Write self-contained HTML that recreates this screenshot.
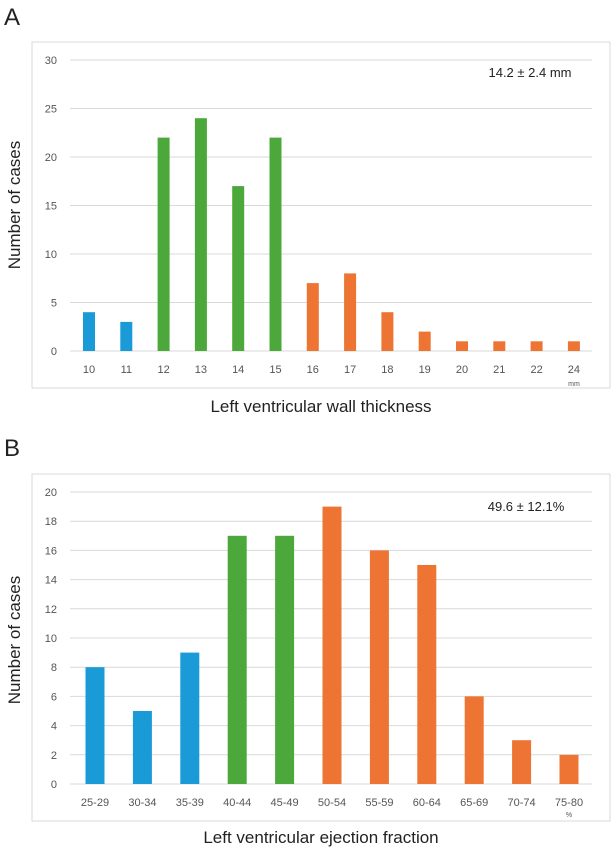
<!DOCTYPE html>
<html><head><meta charset="utf-8">
<style>
html,body{margin:0;padding:0;background:#fff;}
body{width:614px;height:852px;overflow:hidden;font-family:"Liberation Sans","Noto Sans CJK JP",sans-serif;}
</style></head>
<body>
<svg id="chart" width="614" height="852" xmlns="http://www.w3.org/2000/svg" font-family="Liberation Sans, Noto Sans CJK JP, sans-serif">
<text x="4" y="25" font-size="24" fill="#222">A</text>
<rect x="32" y="42" width="578" height="346" fill="none" stroke="#d9d9d9"/>
<g id="gA"></g>
<text x="530" y="77" font-size="13" text-anchor="middle" fill="#222">14.2 ± 2.4 mm</text>
<text x="574" y="386" font-size="7" text-anchor="middle" fill="#555">mm</text>
<text x="321" y="412" font-size="17" text-anchor="middle" fill="#222">Left ventricular wall thickness</text>
<text transform="translate(20,205) rotate(-90)" font-size="17" text-anchor="middle" fill="#222">Number of cases</text>

<text x="4" y="456" font-size="24" fill="#222">B</text>
<rect x="32" y="474" width="578" height="347" fill="none" stroke="#d9d9d9"/>
<g id="gB"></g>
<text x="526" y="511" font-size="13" text-anchor="middle" fill="#222">49.6 ± 12.1%</text>
<text x="569" y="817" font-size="7" text-anchor="middle" fill="#555">%</text>
<text x="321" y="843" font-size="17" text-anchor="middle" fill="#222">Left ventricular ejection fraction</text>
<text transform="translate(20,640) rotate(-90)" font-size="17" text-anchor="middle" fill="#222">Number of cases</text>
</svg>
<script>
const catsA=["10","11","12","13","14","15","16","17","18","19","20","21","22","24"];
const valsA=[4,3,22,24,17,22,7,8,4,2,1,1,1,1];
const groupA=[0,0,1,1,1,1,2,2,2,2,2,2,2,2];
const ticksA=[0,5,10,15,20,25,30];
const catsB=["25-29","30-34","35-39","40-44","45-49","50-54","55-59","60-64","65-69","70-74","75-80"];
const valsB=[8,5,9,17,17,19,16,15,6,3,2];
const groupB=[0,0,0,1,1,2,2,2,2,2,2];
const ticksB=[0,2,4,6,8,10,12,14,16,18,20];
const colors=["#1a9bd7","#4ca83a","#ed7432"];
const NS="http://www.w3.org/2000/svg";
function mk(g,tag,at,txt){const e=document.createElementNS(NS,tag);for(const k in at)e.setAttribute(k,at[k]);if(txt!==undefined)e.textContent=txt;g.appendChild(e);return e;}
function draw(gid,cats,vals,grp,ticks,o){
  const g=document.getElementById(gid);
  const ymax=ticks[ticks.length-1];
  const y=v=>o.y0-(v/ymax)*(o.y0-o.y1);
  const x=i=>o.x0+i*o.step;
  ticks.forEach(t=>{
    const l=mk(g,"line",{x1:o.gl,x2:o.gr,y1:y(t),y2:y(t),stroke:"#d9d9d9","stroke-width":1});
    
    
    const tx=mk(g,"text",{x:o.gl-13,y:y(t)+4,"font-size":11,"text-anchor":"end",fill:"#555"},t);
    
    
  });
  cats.forEach((c,i)=>{
    const r=mk(g,"rect",{x:x(i)-o.bw/2,y:y(vals[i]),width:o.bw,height:y(0)-y(vals[i]),fill:colors[grp[i]]});
    
    
    const t=mk(g,"text",{x:x(i),y:o.y0+22,"font-size":11,"text-anchor":"middle",fill:"#555"},c);
    
    
  });
}
draw("gA",catsA,valsA,groupA,ticksA,{x0:89,step:37.3,bw:12,y0:351,y1:60,gl:70,gr:592});
draw("gB",catsB,valsB,groupB,ticksB,{x0:95,step:47.4,bw:19,y0:784,y1:492,gl:70,gr:592});
</script>
</body></html>
